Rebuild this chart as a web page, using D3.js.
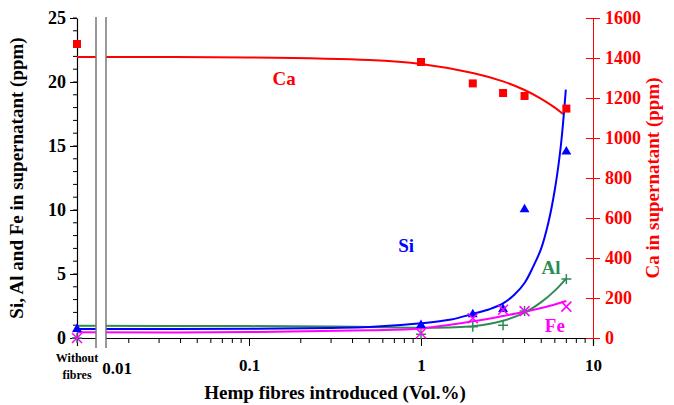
<!DOCTYPE html>
<html>
<head>
<meta charset="utf-8">
<script src="https://cdn.jsdelivr.net/npm/d3@7"></script>
<style>
  body { margin: 0; background: #fff; }
  svg text { font-family: "Liberation Serif", "Times New Roman", serif; font-weight: bold; }
</style>
</head>
<body>
<div id="chart"></div>
<script>
// measured points (0.01 = "Without fibres")
var fibres = [0.01, 1, 2, 3, 4, 7];
var siVals = [0.7, 1.0, 1.85, 2.25, 10.05, 14.55];
var alVals = [0, 0.3, 0.88, 1.0, 2.1, 4.6];
var feVals = [0, 0.37, 1.54, 2.2, 2.1, 2.45];
var caVals = [1470, 1380, 1273, 1225, 1210, 1147];

// fitted curves
var siFitX = [0.01, 0.1, 0.3, 0.5, 1, 1.5, 2, 2.5, 3, 3.5, 4, 4.5, 5, 5.5, 6, 6.5, 6.95];
var siFitY = [0.7, 0.72, 0.78, 0.85, 1.15, 1.45, 1.88, 2.25, 2.7, 3.4, 4.3, 5.6, 7.0, 9.0, 11.6, 15.0, 19.4];
var alFitX = [0.01, 0.1, 0.3, 0.5, 1, 2, 3, 4, 5, 6, 7];
var alFitY = [0.95, 0.93, 0.9, 0.86, 0.8, 0.92, 1.35, 1.98, 2.8, 3.7, 4.66];
var feFitX = [0.01, 0.1, 0.5, 1, 2, 3, 4, 5, 6, 7];
var feFitY = [0.44, 0.46, 0.6, 0.75, 1.3, 1.72, 2.05, 2.35, 2.62, 2.89];
var caFitX = [0.01, 0.1, 0.5, 1, 2, 3, 4, 5, 6, 6.7];
var caFitY = [1405, 1403, 1390, 1370, 1325, 1283, 1240, 1196, 1152, 1120];

var xTickVals = [0.1, 1, 10];
var leftTicks = [0, 5, 10, 15, 20, 25];
var rightTicks = [0, 200, 400, 600, 800, 1000, 1200, 1400, 1600];

var siColor = "#0000ff", alColor = "#2e8b57", feColor = "#ff00ff", caColor = "#ff0000";
var serif = "'Liberation Serif', 'Times New Roman', serif";

var margin = {top: 18, right: 81, bottom: 67, left: 77},
    width = 674 - margin.left - margin.right,
    height = 405 - margin.top - margin.bottom;

var svg = d3.select("#chart")
  .append("svg")
  .attr("width", 674)
  .attr("height", 405)
  .append("g")
  .attr("transform", "translate(" + margin.left + "," + margin.top + ")");

var x = d3.scaleLog().domain([0.01, 10]).range([0, width]);
var yl = d3.scaleLinear().domain([0, 25]).range([height, 0]);
var yr = d3.scaleLinear().domain([0, 1600]).range([height, 0]);

// x axis: minor ticks 2..9 each decade
var minorX = [];
[0.01, 0.1, 1].forEach(function(d) {
  for (var k = 2; k <= 9; k++) minorX.push(d * k);
});
var xAxis = svg.append("g")
  .attr("transform", "translate(0," + height + ")")
  .attr("font-family", serif)
  .call(d3.axisBottom(x).tickValues(xTickVals).tickSize(8).tickFormat(function(d){ return d; }));
xAxis.append("g").selectAll("line").data(minorX).enter().append("line")
  .attr("x1", function(d){ return x(d); }).attr("x2", function(d){ return x(d); })
  .attr("y1", 0).attr("y2", 5).attr("stroke", "#000");
xAxis.selectAll("text").attr("font-size", 17).attr("fill", "#000").attr("dy", "1.3em");
xAxis.select(".domain").attr("stroke-width", 1.2);

// left axis
var yAxisL = svg.append("g")
  .attr("font-family", serif)
  .call(d3.axisLeft(yl).tickValues(leftTicks).tickSize(7).tickSizeOuter(0));
yAxisL.append("g").selectAll("line").data(d3.range(0, 26)).enter().append("line")
  .attr("x1", -4).attr("x2", 0)
  .attr("y1", function(d){ return yl(d); }).attr("y2", function(d){ return yl(d); })
  .attr("stroke", "#000");
yAxisL.selectAll("text").attr("font-size", 18).attr("fill", "#000").attr("x", -11);
yAxisL.select(".domain").attr("stroke-width", 1.2);

// right axis (Ca)
var yAxisR = svg.append("g")
  .attr("transform", "translate(" + width + ",0)")
  .attr("font-family", serif)
  .call(d3.axisRight(yr).tickValues(rightTicks).tickSize(7).tickSizeOuter(0).tickFormat(d3.format("d")));
yAxisR.selectAll(".tick line").attr("x1", -7).attr("stroke", caColor);
yAxisR.select(".domain").attr("stroke", caColor);
yAxisR.selectAll("text").attr("font-size", 18).attr("fill", caColor).attr("x", 12);

// fitted curves
function drawFit(xs, ys, scale, color) {
  var pts = xs.map(function(d, i){ return [d, ys[i]]; });
  var line = d3.line()
    .x(function(d){ return x(d[0]); })
    .y(function(d){ return scale(d[1]); })
    .curve(d3.curveCatmullRom.alpha(0.5));
  svg.append("path")
    .attr("d", line(pts))
    .style("fill", "none")
    .style("stroke", color)
    .style("stroke-width", 2);
}
drawFit(caFitX, caFitY, yr, caColor);
drawFit(alFitX, alFitY, yl, alColor);
drawFit(feFitX, feFitY, yl, feColor);
drawFit(siFitX, siFitY, yl, siColor);

// axis break
var bx1 = 19, bx2 = 29;
svg.append("rect").attr("x", bx1).attr("y", -3).attr("width", bx2 - bx1).attr("height", height + 12).attr("fill", "#fff");
[bx1, bx2].forEach(function(b) {
  svg.append("line").attr("x1", b).attr("x2", b).attr("y1", -1).attr("y2", height + 10)
    .attr("stroke", "#777").attr("stroke-width", 1.5);
});

// markers
svg.append("g").selectAll("rect").data(fibres).enter().append("rect")
  .attr("x", function(d){ return x(d) - 4; })
  .attr("y", function(d, i){ return yr(caVals[i]) - 4; })
  .attr("width", 8).attr("height", 8).attr("fill", caColor);

var tri = d3.symbol().type(d3.symbolTriangle).size(42);
svg.append("g").selectAll("path").data(fibres).enter().append("path")
  .attr("d", tri)
  .attr("transform", function(d, i){ return "translate(" + x(d) + "," + yl(siVals[i]) + ")"; })
  .attr("fill", siColor);

svg.append("g").selectAll("path").data(fibres).enter().append("path")
  .attr("d", "M-5,0H5M0,-5V5")
  .attr("transform", function(d, i){ return "translate(" + x(d) + "," + yl(alVals[i]) + ")"; })
  .attr("stroke", alColor).attr("stroke-width", 1.5).attr("fill", "none");

svg.append("g").selectAll("path").data(fibres).enter().append("path")
  .attr("d", "M-5,-5L5,5M-5,5L5,-5")
  .attr("transform", function(d, i){ return "translate(" + x(d) + "," + yl(feVals[i]) + ")"; })
  .attr("stroke", feColor).attr("stroke-width", 1.5).attr("fill", "none");

// series labels
svg.append("text").attr("x", x(0.16)).attr("y", 67).attr("text-anchor", "middle")
  .attr("font-size", 19).attr("fill", caColor).text("Ca");
svg.append("text").attr("x", x(0.82)).attr("y", yl(6.7)).attr("text-anchor", "middle")
  .attr("font-size", 19).attr("fill", siColor).text("Si");
svg.append("text").attr("x", x(5.7)).attr("y", yl(5.0)).attr("text-anchor", "middle")
  .attr("font-size", 19).attr("fill", alColor).text("Al");
svg.append("text").attr("x", x(6.0)).attr("y", yl(0.5)).attr("text-anchor", "middle")
  .attr("font-size", 19).attr("fill", feColor).text("Fe");

// extra x labels
svg.append("text").attr("x", 40).attr("y", height + 36).attr("text-anchor", "middle")
  .attr("font-size", 17).attr("fill", "#000").text("0.01");
var wf = svg.append("text").attr("x", 0).attr("y", height + 24).attr("text-anchor", "middle")
  .attr("font-size", 12).attr("fill", "#000");
wf.append("tspan").attr("x", 0).text("Without");
wf.append("tspan").attr("x", 0).attr("dy", 17).text("fibres");

// axis titles
svg.append("text").attr("x", width / 2).attr("y", height + 61).attr("text-anchor", "middle")
  .attr("font-size", 19).attr("fill", "#000").text("Hemp fibres introduced (Vol.%)");
svg.append("text").attr("transform", "translate(-54," + (height / 2) + ") rotate(-90)")
  .attr("text-anchor", "middle").attr("font-size", 19).attr("fill", "#000")
  .text("Si, Al and Fe in supernatant (ppm)");
svg.append("text").attr("transform", "translate(" + (width + 66) + "," + (height / 2) + ") rotate(-90)")
  .attr("text-anchor", "middle").attr("font-size", 19).attr("fill", caColor)
  .text("Ca in supernatant (ppm)");
</script>
</body>
</html>
